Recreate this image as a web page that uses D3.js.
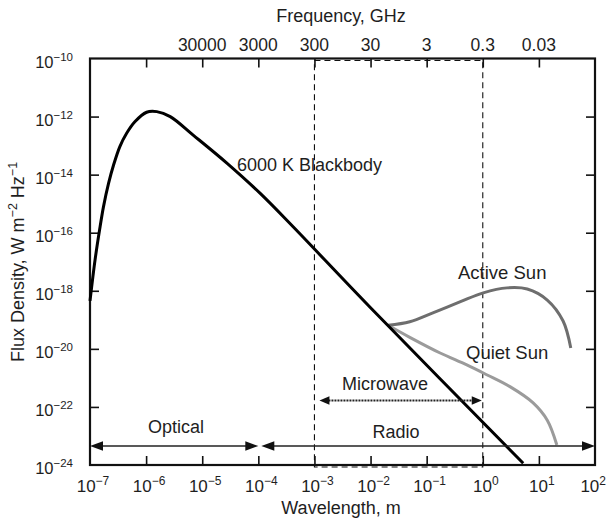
<!DOCTYPE html>
<html><head><meta charset="utf-8">
<script src="https://cdn.jsdelivr.net/npm/d3@7"></script>
<style>
html,body{margin:0;padding:0;background:#fff;}
svg text{font-family:"Liberation Sans",Arial,Helvetica,sans-serif;fill:#1e1e1e;}
</style></head>
<body><svg id="c" width="607" height="520"></svg>
<script>
// ---- data ----
const bbWavelength = [1e-7, 1.23e-7, 1.48e-7, 1.74e-7, 2.14e-7, 2.63e-7, 3.39e-7, 4.47e-7, 6.3e-7, 1.02e-6, 1.55e-6, 2.69e-6, 6.9e-6, 2.75e-5, 1.07e-4, 4.17e-4, 1e-2, 5.25];
const bbFlux       = [4.5e-19, 1.15e-17, 1.23e-16, 7.9e-16, 5.0e-15, 2.14e-14, 9.1e-14, 2.6e-13, 6.6e-13, 1.41e-12, 1.48e-12, 1.0e-12, 2.3e-13, 2.5e-14, 2.3e-15, 1.6e-16, 2.6e-19, 1.15e-24];
const activeWavelength = [2.05e-2, 5.0e-2, 0.129, 0.40, 1.02, 2.7, 6.2, 14.1, 27, 37];
const activeFlux       = [6.5e-20, 8.6e-20, 1.74e-19, 4.2e-19, 8.5e-19, 1.26e-18, 1.15e-18, 4.8e-19, 9.1e-20, 1.07e-20];
const quietWavelength = [2.05e-2, 5.0e-2, 0.174, 0.52, 1.2, 3.1, 7.9, 14.1, 20.9];
const quietFlux       = [6.5e-20, 2.5e-20, 7.2e-21, 2.8e-21, 1.26e-21, 4.9e-22, 1.38e-22, 3.5e-23, 4.9e-24];
const xTickExps = [-7, -6, -5, -4, -3, -2, -1, 0, 1, 2];
const yTickExps = [-10, -12, -14, -16, -18, -20, -22, -24];
const freqTicksGHz  = [300000, 30000, 3000, 300, 30, 3, 0.3, 0.03];
const freqTickLabels = ["", "30000", "3000", "300", "30", "3", "0.3", "0.03"];
const microwaveBand = [1e-3, 1e0];
const opticalBand = [1e-7, 1e-4];
const radioBand = [1e-4, 1e2];

// ---- layout ----
const L = 90, R = 595, T = 58.5, B = 465;
const svg = d3.select("#c");
const x = d3.scaleLog().domain([1e-7, 1e2]).range([L, R]);
const y = d3.scaleLog().domain([1e-24, 1e-10]).range([B, T]);

// dashed microwave box
svg.append("rect")
  .attr("x", x(microwaveBand[0])).attr("y", T + 2)
  .attr("width", x(microwaveBand[1]) - x(microwaveBand[0])).attr("height", B - T)
  .attr("fill", "none").attr("stroke", "#111").attr("stroke-width", 1.1)
  .attr("stroke-dasharray", "6,4");

// axes with inward ticks
function styleAxis(g){ g.select(".domain").remove(); g.selectAll(".tick line").attr("stroke","#111").attr("stroke-width",1.6); }
svg.append("g").attr("transform", `translate(0,${B})`)
  .call(d3.axisBottom(x).tickValues(xTickExps.slice(1,-1).map(e=>Math.pow(10,e))).tickSize(-9).tickFormat(""))
  .call(styleAxis);
svg.append("g").attr("transform", `translate(0,${T})`)
  .call(d3.axisTop(x).tickValues(freqTicksGHz.map(f=>0.3/f)).tickSize(-9).tickFormat(""))
  .call(styleAxis);
svg.append("g").attr("transform", `translate(${L},0)`)
  .call(d3.axisLeft(y).tickValues(yTickExps.slice(1,-1).map(e=>Math.pow(10,e))).tickSize(-9).tickFormat(""))
  .call(styleAxis);
svg.append("g").attr("transform", `translate(${R},0)`)
  .call(d3.axisRight(y).tickValues(yTickExps.slice(1,-1).map(e=>Math.pow(10,e))).tickSize(-9).tickFormat(""))
  .call(styleAxis);

// frame
svg.append("rect").attr("x", L).attr("y", T).attr("width", R - L).attr("height", B - T)
  .attr("fill", "none").attr("stroke", "#111").attr("stroke-width", 2.2);

// tick labels
function pow10(sel, e, base, sup){
  sel.append("tspan").attr("font-size", base).text("10");
  sel.append("tspan").attr("font-size", sup).attr("dy", -7).text(e < 0 ? "\u2212" + Math.abs(e) : String(e));
}
xTickExps.forEach((e, i) => {
  const last = i === xTickExps.length - 1;
  const t = svg.append("text").attr("x", last ? 606 : x(Math.pow(10, e)) + 3).attr("y", 492)
    .attr("text-anchor", last ? "end" : "middle");
  pow10(t, e, 17, 12);
});
yTickExps.forEach(e => {
  const t = svg.append("text").attr("x", 73).attr("y", y(Math.pow(10, e)) + 9)
    .attr("text-anchor", "end");
  pow10(t, e, 16.5, 11.5);
});
freqTicksGHz.forEach((f, i) => {
  svg.append("text").attr("x", x(0.3 / f)).attr("y", 51).attr("text-anchor", "middle")
    .attr("font-size", 17.5).text(freqTickLabels[i]);
});

// axis titles
svg.append("text").attr("x", 341).attr("y", 22).attr("text-anchor", "middle").attr("font-size", 18).text("Frequency, GHz");
svg.append("text").attr("x", 341).attr("y", 514).attr("text-anchor", "middle").attr("font-size", 18).text("Wavelength, m");
const yl = svg.append("text").attr("transform", "translate(24,262) rotate(-90)").attr("text-anchor", "middle").attr("font-size", 18);
yl.append("tspan").text("Flux Density, W m");
yl.append("tspan").attr("font-size", 12.5).attr("dy", -7).text("\u22122");
yl.append("tspan").attr("dy", 7).text(" Hz");
yl.append("tspan").attr("font-size", 12.5).attr("dy", -7).text("\u22121");

// annotation texts
svg.append("text").attr("x", 237).attr("y", 170.5).attr("font-size", 18).text("6000 K Blackbody");
svg.append("text").attr("x", 458).attr("y", 279).attr("font-size", 18.5).text("Active Sun");
svg.append("text").attr("x", 466).attr("y", 359).attr("font-size", 18.5).text("Quiet Sun");
svg.append("text").attr("x", 342).attr("y", 390).attr("font-size", 18).text("Microwave");
svg.append("text").attr("x", 148).attr("y", 432.5).attr("font-size", 18).text("Optical");
svg.append("text").attr("x", 396).attr("y", 437.5).attr("text-anchor", "middle").attr("font-size", 18).text("Radio");

// curves
const line = d3.line().x(d => x(d[0])).y(d => y(d[1])).curve(d3.curveCatmullRom.alpha(0.5));
svg.append("path").datum(quietWavelength.map((w,i)=>[w, quietFlux[i]]))
  .attr("d", line).attr("fill","none").attr("stroke","#9b9b9b").attr("stroke-width",3);
svg.append("path").datum(activeWavelength.map((w,i)=>[w, activeFlux[i]]))
  .attr("d", line).attr("fill","none").attr("stroke","#6e6e6e").attr("stroke-width",3);
svg.append("path").datum(bbWavelength.map((w,i)=>[w, bbFlux[i]]))
  .attr("d", line).attr("fill","none").attr("stroke","#000").attr("stroke-width",3);

// arrows
function head(xt, yv, dir, len, hw){
  svg.append("path").attr("d", `M${xt},${yv} L${xt - dir*len},${yv - hw} L${xt - dir*len},${yv + hw} Z`).attr("fill", "#111");
}
function arrow(x1, x2, yv, dash, len, hw, sw){
  svg.append("line").attr("x1", x1 + len - 1).attr("x2", x2 - len + 1).attr("y1", yv).attr("y2", yv)
    .attr("stroke", "#222").attr("stroke-width", sw).attr("stroke-dasharray", dash || null);
  head(x1, yv, -1, len, hw); head(x2, yv, 1, len, hw);
}
const arrowY = 446;
arrow(x(opticalBand[0]), x(opticalBand[1]), arrowY, null, 13, 4.8, 1.5);
arrow(x(radioBand[0]) + 3, x(radioBand[1]), arrowY, null, 13, 4.8, 1.5);
arrow(x(microwaveBand[0]) + 5, x(microwaveBand[1]) - 1, 400.5, "2,1", 10, 4.2, 1.9);
</script></body></html>
